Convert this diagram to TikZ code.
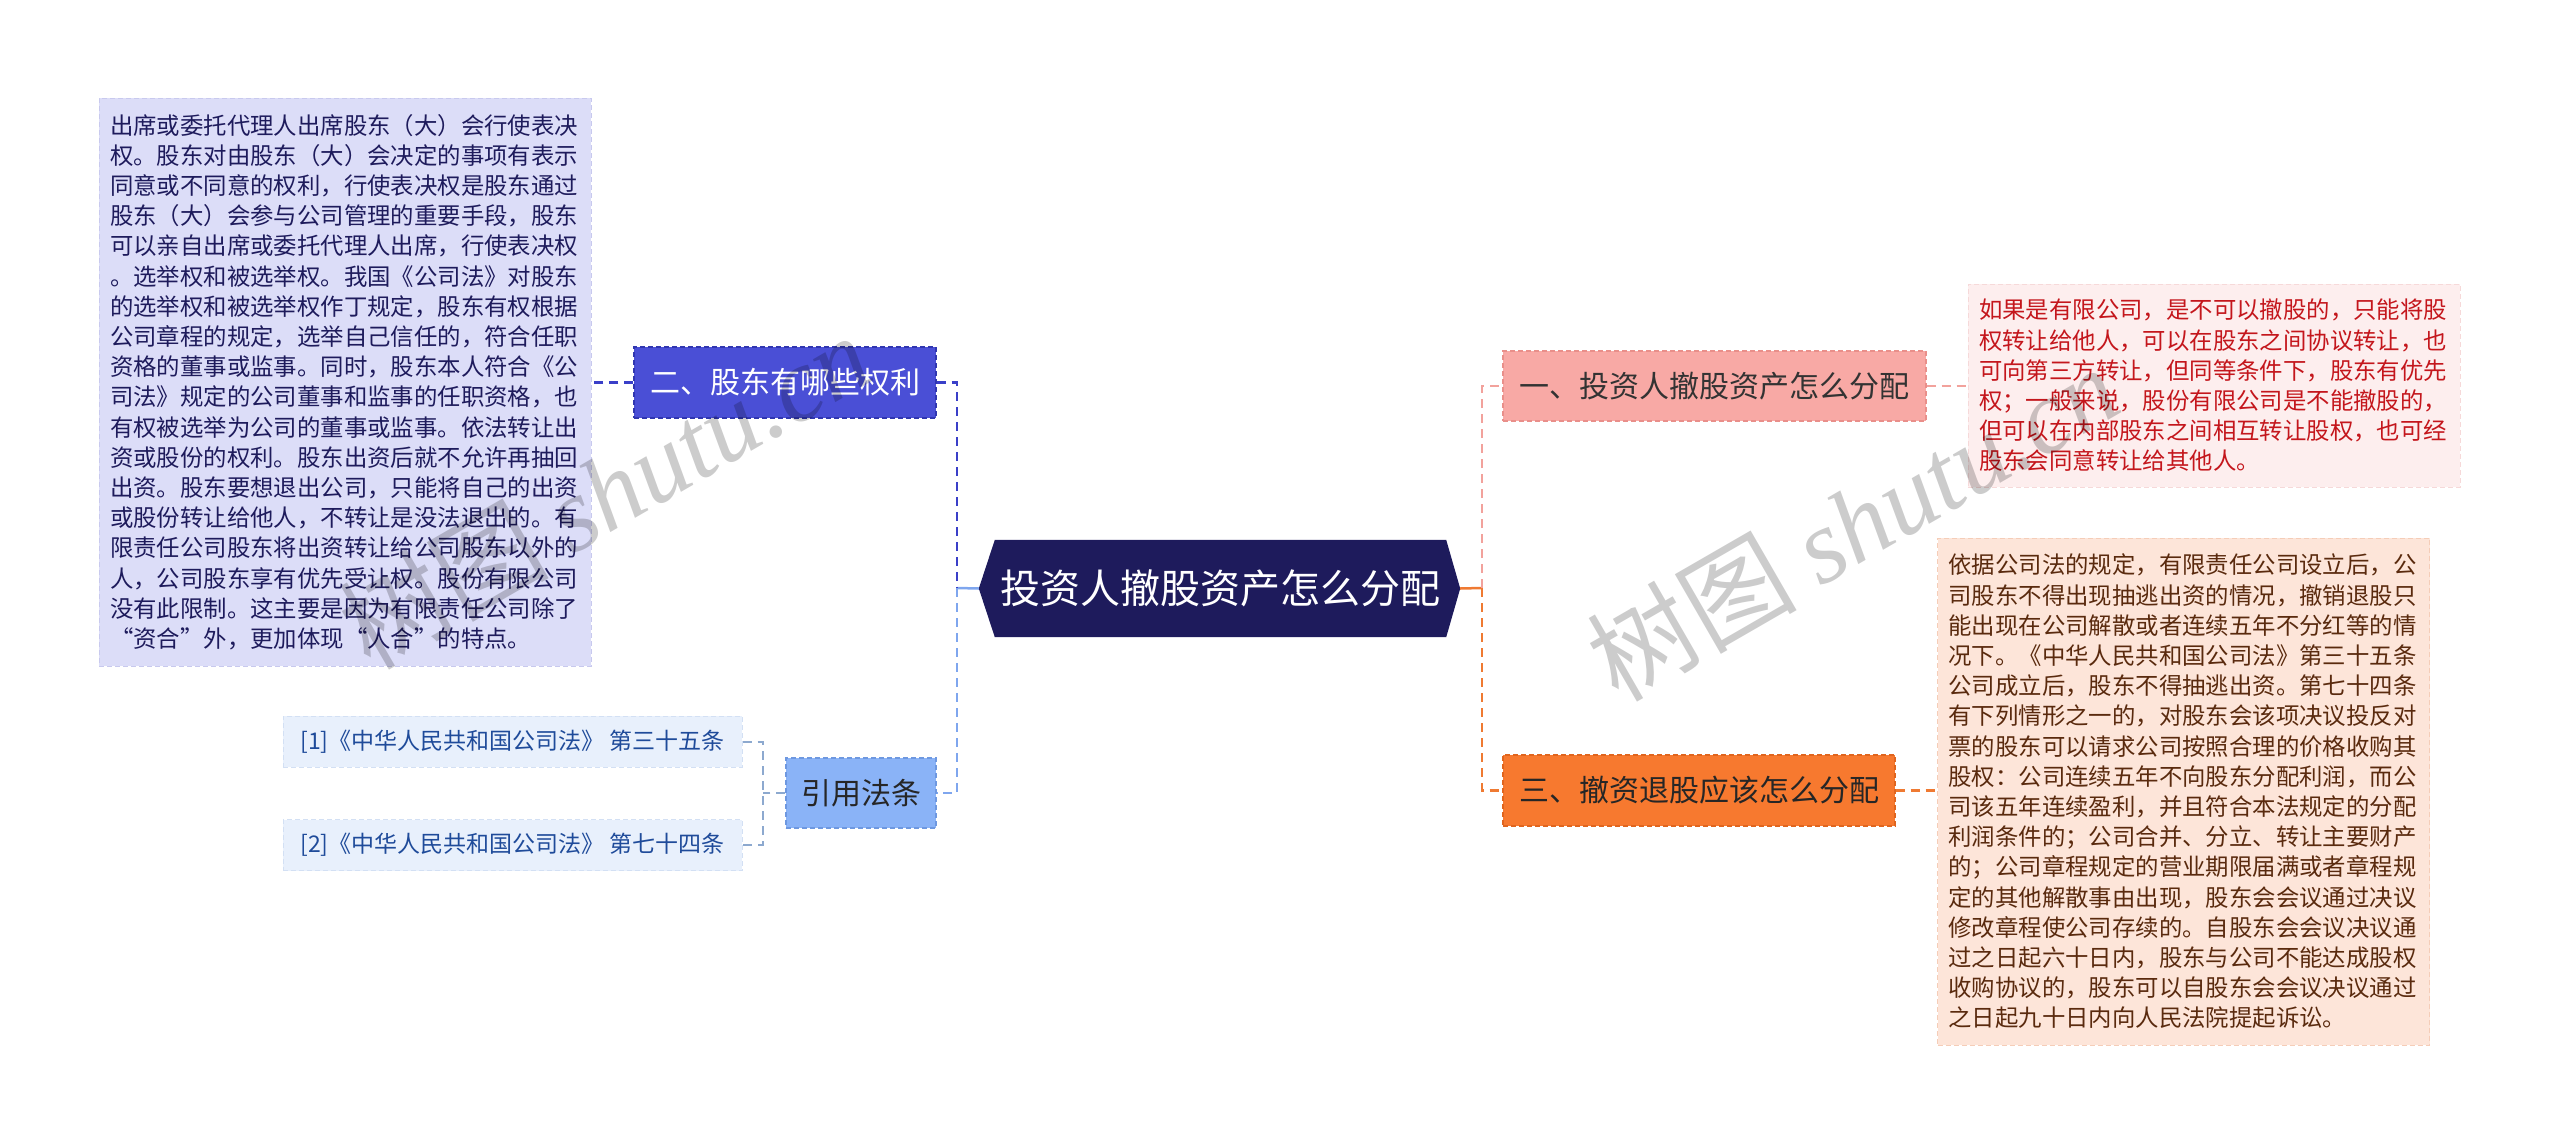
\documentclass[tikz,border=0pt]{standalone}
\usepackage{fontspec}
\setmainfont{Noto Sans CJK SC}
\newfontfamily\wmfont{Liberation Serif}
\usetikzlibrary{backgrounds}

\definecolor{rootnavy}{HTML}{1E1B5C}
\definecolor{pinkfill}{HTML}{F8A9A5}
\definecolor{pinkedge}{HTML}{E98F8A}
\definecolor{orangefill}{HTML}{F7792F}
\definecolor{orangeedge}{HTML}{E0651E}
\definecolor{violetfill}{HTML}{4A4FD6}
\definecolor{violetedge}{HTML}{3036B0}
\definecolor{bluefill}{HTML}{8AB3F7}
\definecolor{blueedge}{HTML}{6E98E0}
\definecolor{lavfill}{HTML}{DCDDF8}
\definecolor{laveedge}{HTML}{C8C9EE}
\definecolor{rosefill}{HTML}{FDEEEE}
\definecolor{roseedge}{HTML}{F6D9D9}
\definecolor{peachfill}{HTML}{FDE5D9}
\definecolor{peachedge}{HTML}{F5CDB8}
\definecolor{reffill}{HTML}{E8F0FC}
\definecolor{refedge}{HTML}{D3E0F4}
\definecolor{reftext}{HTML}{1F4B9A}
\definecolor{redtext}{HTML}{C4161C}
\definecolor{browntext}{HTML}{5A2A0E}
\definecolor{leftdark}{HTML}{3A3FC8}
\definecolor{leftlight}{HTML}{7FA6EE}
\definecolor{rightpink}{HTML}{F2A29C}
\definecolor{rightorange}{HTML}{EF7A32}
\definecolor{citeline}{HTML}{8DA9CF}

\begin{document}
\begin{tikzpicture}[x=1pt,y=-1pt,
    topic/.style={inner sep=0pt, font=\fontsize{30}{36}\selectfont, draw, line width=1.2pt, dash pattern=on 5pt off 3pt},
    detail/.style={text width=470pt, align=left, inner xsep=11pt, inner ysep=12pt, font=\fontsize{23.4}{30.2}\selectfont, draw, line width=1pt, dash pattern=on 5pt off 3pt},
    refbox/.style={inner sep=0pt, minimum width=459pt, minimum height=51pt, font=\fontsize{23}{28}\selectfont, fill=reffill, draw=refedge, line width=1pt, dash pattern=on 5pt off 3pt, text=reftext},
    link/.style={line width=2.5pt, dash pattern=on 9pt off 6pt},
    wmark/.style={font=\fontsize{105}{110}\selectfont, text=black, text opacity=0.2, inner sep=0pt, rotate=30, anchor=base west}
  ]
  \useasboundingbox (0,0) rectangle (2560,1143);

  \node[inner sep=0pt, minimum width=451pt, minimum height=97pt, text=white, font=\fontsize{40}{44}\selectfont] (root) at (1220.5,588.5) {投资人撤股资产怎么分配};
  \begin{scope}[on background layer]
    \fill[rootnavy] (root.north west) -- (root.north east) -- ([xshift=14pt]root.east) -- (root.south east)
      -- (root.south west) -- ([xshift=-16pt]root.west) -- cycle;
  \end{scope}

  \node[topic, fill=pinkfill, draw=pinkedge, text=black!80, minimum width=423pt, minimum height=70pt] (b1) at (1714.5,386) {一、投资人撤股资产怎么分配};
  \node[topic, fill=orangefill, draw=orangeedge, text=black!85, minimum width=392pt, minimum height=71pt] (b3) at (1699,790.5) {三、撤资退股应该怎么分配};
  \node[topic, fill=violetfill, draw=violetedge, text=white, minimum width=302pt, minimum height=71pt] (b2) at (785,382.5) {二、股东有哪些权利};
  \node[topic, fill=bluefill, draw=blueedge, text=black!85, minimum width=150pt, minimum height=70pt] (cite) at (861,793) {引用法条};

  \node[detail, fill=lavfill, draw=laveedge, text=rootnavy, minimum height=568pt] (d2) at (345,382) {出席或委托代理人出席股东（大）会行使表决\\
权。股东对由股东（大）会决定的事项有表示\\
同意或不同意的权利，行使表决权是股东通过\\
股东（大）会参与公司管理的重要手段，股东\\
可以亲自出席或委托代理人出席，行使表决权\\
。选举权和被选举权。我国《公司法》对股东\\
的选举权和被选举权作丁规定，股东有权根据\\
公司章程的规定，选举自己信任的，符合任职\\
资格的董事或监事。同时，股东本人符合《公\\
司法》规定的公司董事和监事的任职资格，也\\
有权被选举为公司的董事或监事。依法转让出\\
资或股份的权利。股东出资后就不允许再抽回\\
出资。股东要想退出公司，只能将自己的出资\\
或股份转让给他人，不转让是没法退出的。有\\
限责任公司股东将出资转让给公司股东以外的\\
人，公司股东享有优先受让权。股份有限公司\\
没有此限制。这主要是因为有限责任公司除了\\
“资合”外，更加体现“人合”的特点。};

  \node[detail, fill=rosefill, draw=roseedge, text=redtext, minimum height=203pt] (d1) at (2214,385.5) {如果是有限公司，是不可以撤股的，只能将股\\
权转让给他人，可以在股东之间协议转让，也\\
可向第三方转让，但同等条件下，股东有优先\\
权；一般来说，股份有限公司是不能撤股的，\\
但可以在内部股东之间相互转让股权，也可经\\
股东会同意转让给其他人。};

  \node[detail, fill=peachfill, draw=peachedge, text=browntext, minimum height=507pt] (d3) at (2183.5,791.5) {依据公司法的规定，有限责任公司设立后，公\\
司股东不得出现抽逃出资的情况，撤销退股只\\
能出现在公司解散或者连续五年不分红等的情\\
况下。《中华人民共和国公司法》第三十五条\\
公司成立后，股东不得抽逃出资。第七十四条\\
有下列情形之一的，对股东会该项决议投反对\\
票的股东可以请求公司按照合理的价格收购其\\
股权：公司连续五年不向股东分配利润，而公\\
司该五年连续盈利，并且符合本法规定的分配\\
利润条件的；公司合并、分立、转让主要财产\\
的；公司章程规定的营业期限届满或者章程规\\
定的其他解散事由出现，股东会会议通过决议\\
修改章程使公司存续的。自股东会会议决议通\\
过之日起六十日内，股东与公司不能达成股权\\
收购协议的，股东可以自股东会会议决议通过\\
之日起九十日内向人民法院提起诉讼。};

  \node[refbox] (r1) at (512.5,741.5) {[1]《中华人民共和国公司法》 第三十五条};
  \node[refbox] (r2) at (512.5,845) {[2]《中华人民共和国公司法》 第七十四条};

  \coordinate (lj) at (957,588);
  \coordinate (rj) at (1482,588);
  \coordinate (cj) at (763,793);

  \draw[line width=2.5pt, leftlight] ([xshift=-16pt]root.west) -- (lj);
  \draw[link, leftdark] (b2.east) -| (lj);
  \draw[link, leftlight] (lj) |- (cite.east);
  \draw[link, leftdark] (b2.west) -- (b2.west -| d2.east);
  \draw[link, citeline, line width=2pt] (cite.west) -- (cj);
  \draw[link, citeline, line width=2pt] (r1.east) -| (cj) |- (r2.east);

  \draw[line width=2.5pt, rightorange] ([xshift=14pt]root.east) -- (rj);
  \draw[link, rightpink] (rj) |- (b1.west);
  \draw[link, rightorange] (rj) |- (b3.west);
  \draw[link, rightpink] (b1.east) -- (b1.east -| d1.west);
  \draw[link, rightorange] (b3.east) -- (b3.east -| d3.west);

  \node[wmark] (wm1) at (370,672) {树图 {\wmfont\itshape shutu.cn}};
  \node[wmark] (wm2) at (1618,704) {树图 {\wmfont\itshape shutu.cn}};
\end{tikzpicture}
\end{document}
